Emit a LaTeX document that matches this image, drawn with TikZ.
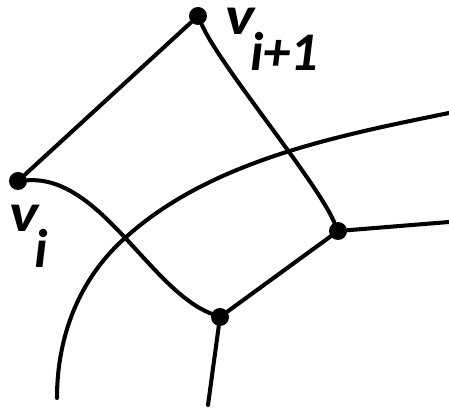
\documentclass[tikz,border=0pt]{standalone}
\usepackage{graphicx}
\usepackage{fontspec}
\setmainfont{Carlito}
\usetikzlibrary{positioning}
\tikzstyle{vdot} = [circle, fill=black, inner sep=0pt, minimum size=0.36cm]
\tikzstyle{edge} = [line width=2.3pt, line cap=round]
\tikzstyle{vlbl} = [font=\fontsize{31}{34}\selectfont\bfseries\itshape,
                    inner sep=0pt, anchor=base west]
\newcommand{\vsub}[1]{\smash{\scalebox{1.15}[1]{v}}\kern-0.08em\raisebox{-0.66em}{#1}}

\begin{document}
\begin{tikzpicture}[x=0.02cm, y=-0.02cm]
  \useasboundingbox (0,0) rectangle (449,411);
  % vertices
  \node[vdot] (vi)  at (18,181)  {};
  \node[vdot] (vj)  at (198,16)  {};
  \node[vdot] (pa)  at (338,231) {};
  \node[vdot] (pb)  at (220,317) {};
  \node[vlbl] (lvi) at (9,232)   {\vsub{i}};
  \node[vlbl] (lvj) at (225,35)  {\vsub{i+1}};
  % free ends
  \coordinate (ea) at (449,222);
  \coordinate (eb) at (208,405);
  \coordinate (c0) at (57,398);
  \coordinate (c1) at (125,238);
  \coordinate (c2) at (449,113);

  \draw[edge] (vi) -- (vj);
  \draw[edge] (vj) .. controls (220,66) and (316,180) .. (pa);
  \draw[edge] (vi) .. controls (100,175) and (150,290) .. (pb);
  \draw[edge] (pa) -- (pb);
  \draw[edge] (pa) -- (ea);
  \draw[edge] (pb) -- (eb);
  % outer arc
  \draw[edge] (c0) .. controls (57,335) and (80,278) .. (c1)
                   .. controls (210,161) and (336,136) .. (c2);
\end{tikzpicture}
\end{document}
